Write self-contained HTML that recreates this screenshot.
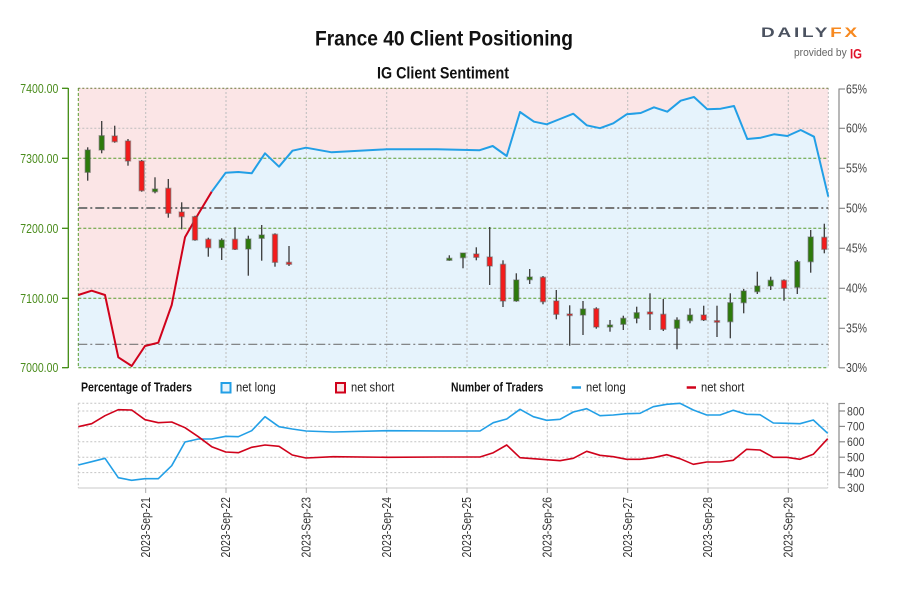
<!DOCTYPE html>
<html><head><meta charset="utf-8"><style>
html,body{margin:0;padding:0;background:#fff;}
svg{display:block;font-family:"Liberation Sans Narrow","Liberation Sans",sans-serif;}
</style></head><body>
<svg width="900" height="600" viewBox="0 0 900 600" xmlns="http://www.w3.org/2000/svg">
<rect width="900" height="600" fill="#fff"/>
<!-- Titles -->
<text x="315" y="45.5" font-family="Liberation Sans, sans-serif" font-size="21" font-weight="bold" fill="#111" textLength="258" lengthAdjust="spacingAndGlyphs">France 40 Client Positioning</text>
<text x="377" y="78.3" font-family="Liberation Sans, sans-serif" font-size="16.5" font-weight="bold" fill="#111" textLength="132" lengthAdjust="spacingAndGlyphs">IG Client Sentiment</text>
<!-- Logo -->
<text x="761" y="36.8" font-family="Liberation Sans, sans-serif" font-size="13.5" font-weight="bold" letter-spacing="2" textLength="99" lengthAdjust="spacingAndGlyphs"><tspan fill="#4b5260">DAILY</tspan><tspan fill="#f7891f">FX</tspan></text>
<text x="794" y="55.8" font-family="Liberation Sans, sans-serif" font-size="11" fill="#666" textLength="52.7" lengthAdjust="spacingAndGlyphs">provided by</text>
<text x="850" y="58.5" font-family="Liberation Sans, sans-serif" font-size="14" font-weight="bold" fill="#e0142b" textLength="12" lengthAdjust="spacingAndGlyphs">IG</text>

<!-- Main plot backgrounds -->
<rect x="78.3" y="88" width="750" height="280" fill="#fbe5e6"/>
<polygon fill="#e6f3fc" points="78.3,295 91.7,290.7 105,295 118.3,357.3 131.7,366 145,346 158.3,342.7 171.7,305 185,237.3 198.3,214 211.7,191.7 225.7,172.7 238.3,172 251.7,173.3 265,153.3 279,166.7 292.5,150.7 306,147.7 331.7,152.3 386.7,149.3 436.7,149.3 479.3,150.3 492.7,146 506.7,156 520,112 534,121.7 546.7,124.3 560,119 573.3,113.7 586.7,125.3 600,128.2 613.3,123.3 626.7,114.3 640.7,113 654,107.3 667.3,111.7 680.7,100.7 694,97 707.3,109.3 720.7,108.7 734,106 747.3,139 760.7,137.7 774,134.3 787.3,136 800.7,130 814,136.7 828.3,196.7 828.3,368 78.3,368"/>

<!-- Grid: vertical gray dotted -->
<g stroke="#bdbdbd" stroke-width="1" stroke-dasharray="2,2">
<line x1="145.7" y1="88" x2="145.7" y2="368"/><line x1="226" y1="88" x2="226" y2="368"/><line x1="306.3" y1="88" x2="306.3" y2="368"/><line x1="386.7" y1="88" x2="386.7" y2="368"/><line x1="467" y1="88" x2="467" y2="368"/><line x1="547.3" y1="88" x2="547.3" y2="368"/><line x1="627.7" y1="88" x2="627.7" y2="368"/><line x1="708" y1="88" x2="708" y2="368"/><line x1="788.3" y1="88" x2="788.3" y2="368"/>
<line x1="78.3" y1="128.3" x2="828.3" y2="128.3"/><line x1="78.3" y1="288.3" x2="828.3" y2="288.3"/>
<line x1="828.3" y1="88" x2="828.3" y2="368"/>
</g>
<!-- Grid: horizontal green dotted -->
<g stroke="#5a9e2f" stroke-width="1" stroke-dasharray="3,2">
<line x1="78.3" y1="158.3" x2="828.3" y2="158.3"/><line x1="78.3" y1="228.3" x2="828.3" y2="228.3"/><line x1="78.3" y1="298.3" x2="828.3" y2="298.3"/><line x1="78.3" y1="367.7" x2="828.3" y2="367.7"/>
<line x1="78.3" y1="88" x2="78.3" y2="368"/>
</g>
<line x1="78.3" y1="88.3" x2="828.3" y2="88.3" stroke="#6b7a3a" stroke-width="1" stroke-dasharray="2,2"/>
<!-- Dash-dot reference lines -->
<line x1="78.3" y1="208" x2="828.3" y2="208" stroke="#777" stroke-width="2" stroke-dasharray="9,3,2,3"/>
<line x1="78.3" y1="344.3" x2="828.3" y2="344.3" stroke="#777" stroke-width="1.2" stroke-dasharray="9,3,2,3"/>

<!-- Sentiment line -->
<polyline fill="none" stroke="#d0021b" stroke-width="2" stroke-linejoin="round" points="78.3,295 91.7,290.7 105,295 118.3,357.3 131.7,366 145,346 158.3,342.7 171.7,305 185,237.3 198.3,214 211.7,191.7"/>
<polyline fill="none" stroke="#229fe6" stroke-width="2" stroke-linejoin="round" points="211.7,191.7 225.7,172.7 238.3,172 251.7,173.3 265,153.3 279,166.7 292.5,150.7 306,147.7 331.7,152.3 386.7,149.3 436.7,149.3 479.3,150.3 492.7,146 506.7,156 520,112 534,121.7 546.7,124.3 560,119 573.3,113.7 586.7,125.3 600,128.2 613.3,123.3 626.7,114.3 640.7,113 654,107.3 667.3,111.7 680.7,100.7 694,97 707.3,109.3 720.7,108.7 734,106 747.3,139 760.7,137.7 774,134.3 787.3,136 800.7,130 814,136.7 828.3,196.7"/>

<!-- Candles: wicks -->
<g stroke="#3a3a3a" stroke-width="1.3">
<line x1="87.7" y1="147.3" x2="87.7" y2="180.7"/><line x1="101.7" y1="121" x2="101.7" y2="153.3"/><line x1="114.7" y1="125.7" x2="114.7" y2="142.7"/><line x1="128" y1="139" x2="128" y2="165.7"/><line x1="141.7" y1="160" x2="141.7" y2="191.7"/><line x1="155" y1="177.3" x2="155" y2="193.3"/><line x1="168.3" y1="179" x2="168.3" y2="217.7"/><line x1="181.7" y1="202.3" x2="181.7" y2="229.3"/><line x1="195" y1="215.7" x2="195" y2="240.7"/><line x1="208.3" y1="237.7" x2="208.3" y2="256.7"/><line x1="221.7" y1="238.3" x2="221.7" y2="260"/><line x1="235" y1="227.3" x2="235" y2="250"/><line x1="248.3" y1="235.7" x2="248.3" y2="275.7"/><line x1="261.7" y1="225" x2="261.7" y2="260.7"/><line x1="275" y1="233.3" x2="275" y2="266.7"/><line x1="289" y1="246" x2="289" y2="266"/>
<line x1="449.3" y1="255.3" x2="449.3" y2="260.7"/><line x1="463" y1="253" x2="463" y2="268.3"/><line x1="476.3" y1="247.3" x2="476.3" y2="260.3"/><line x1="489.7" y1="227" x2="489.7" y2="285"/><line x1="503" y1="260.3" x2="503" y2="307"/><line x1="516.3" y1="273.3" x2="516.3" y2="301.7"/><line x1="529.7" y1="269" x2="529.7" y2="284"/><line x1="543" y1="276" x2="543" y2="304.3"/><line x1="556.3" y1="290" x2="556.3" y2="319.3"/><line x1="569.7" y1="305.3" x2="569.7" y2="345.7"/><line x1="583" y1="301" x2="583" y2="335"/><line x1="596.3" y1="307.3" x2="596.3" y2="328.7"/><line x1="610" y1="320" x2="610" y2="331.7"/><line x1="623.3" y1="315.7" x2="623.3" y2="330"/><line x1="636.7" y1="306.7" x2="636.7" y2="323.3"/><line x1="650" y1="293.3" x2="650" y2="330"/><line x1="663.3" y1="299" x2="663.3" y2="331"/><line x1="677" y1="317.3" x2="677" y2="349.3"/><line x1="690" y1="308.3" x2="690" y2="323.3"/><line x1="703.7" y1="305.7" x2="703.7" y2="321"/><line x1="717" y1="305.7" x2="717" y2="337"/><line x1="730.3" y1="293.3" x2="730.3" y2="338.3"/><line x1="743.7" y1="289" x2="743.7" y2="313.3"/><line x1="757.3" y1="271.7" x2="757.3" y2="294"/><line x1="770.7" y1="276.7" x2="770.7" y2="290"/><line x1="784" y1="279.3" x2="784" y2="300.7"/><line x1="797.3" y1="260" x2="797.3" y2="294"/><line x1="810.7" y1="230" x2="810.7" y2="272.7"/><line x1="824.3" y1="223.7" x2="824.3" y2="253.3"/>
</g>
<!-- Candles: bodies -->
<g stroke="rgba(90,90,90,0.45)" stroke-width="1.4">
<rect x="85.2" y="150" width="5" height="22.3" fill="#2d7a0b"/><rect x="99.2" y="135.7" width="5" height="14.3" fill="#2d7a0b"/><rect x="112.2" y="136" width="5" height="5.7" fill="#f41b1b"/><rect x="125.5" y="141" width="5" height="20" fill="#f41b1b"/><rect x="139.2" y="161" width="5" height="29.7" fill="#f41b1b"/><rect x="152.5" y="189" width="5" height="2.7" fill="#2d7a0b"/><rect x="165.8" y="188.3" width="5" height="25" fill="#f41b1b"/><rect x="179.2" y="212" width="5" height="4.7" fill="#f41b1b"/><rect x="192.5" y="216.7" width="5" height="23.3" fill="#f41b1b"/><rect x="205.8" y="239.3" width="5" height="8.4" fill="#f41b1b"/><rect x="219.2" y="240" width="5" height="7.7" fill="#2d7a0b"/><rect x="232.5" y="239.3" width="5" height="10" fill="#f41b1b"/><rect x="245.8" y="239" width="5" height="10" fill="#2d7a0b"/><rect x="259.2" y="235" width="5" height="3.3" fill="#2d7a0b"/><rect x="272.5" y="234.3" width="5" height="28" fill="#f41b1b"/><rect x="286.5" y="262.3" width="5" height="2" fill="#f41b1b"/>
<rect x="446.8" y="258.3" width="5" height="2" fill="#2d7a0b"/><rect x="460.5" y="253" width="5" height="4.7" fill="#2d7a0b"/><rect x="473.8" y="254" width="5" height="3.3" fill="#f41b1b"/><rect x="487.2" y="257" width="5" height="9" fill="#f41b1b"/><rect x="500.5" y="264.3" width="5" height="36.7" fill="#f41b1b"/><rect x="513.8" y="280" width="5" height="21" fill="#2d7a0b"/><rect x="527.2" y="277" width="5" height="2.7" fill="#2d7a0b"/><rect x="540.5" y="277.3" width="5" height="24.4" fill="#f41b1b"/><rect x="553.8" y="301" width="5" height="13.3" fill="#f41b1b"/><rect x="567.2" y="314" width="5" height="1.5" fill="#f41b1b"/><rect x="580.5" y="309" width="5" height="6" fill="#2d7a0b"/><rect x="593.8" y="308.7" width="5" height="18.3" fill="#f41b1b"/><rect x="607.5" y="325" width="5" height="2" fill="#2d7a0b"/><rect x="620.8" y="318.3" width="5" height="6" fill="#2d7a0b"/><rect x="634.2" y="312.7" width="5" height="5.6" fill="#2d7a0b"/><rect x="647.5" y="312" width="5" height="2" fill="#f41b1b"/><rect x="660.8" y="314.3" width="5" height="15" fill="#f41b1b"/><rect x="674.5" y="320" width="5" height="8.3" fill="#2d7a0b"/><rect x="687.5" y="315" width="5" height="5.7" fill="#2d7a0b"/><rect x="701.2" y="315" width="5" height="5" fill="#f41b1b"/><rect x="714.5" y="320.7" width="5" height="1.5" fill="#f41b1b"/><rect x="727.8" y="302.7" width="5" height="19" fill="#2d7a0b"/><rect x="741.2" y="291" width="5" height="11.7" fill="#2d7a0b"/><rect x="754.8" y="286" width="5" height="5.7" fill="#2d7a0b"/><rect x="768.2" y="280.3" width="5" height="5.7" fill="#2d7a0b"/><rect x="781.5" y="280.3" width="5" height="8" fill="#f41b1b"/><rect x="794.8" y="261.7" width="5" height="25.6" fill="#2d7a0b"/><rect x="808.2" y="237" width="5" height="24.7" fill="#2d7a0b"/><rect x="821.8" y="237.3" width="5" height="12" fill="#f41b1b"/>
</g>

<!-- Left axis -->
<line x1="68.3" y1="88" x2="68.3" y2="368" stroke="#3f8a10" stroke-width="1.3"/>
<g stroke="#3f8a10" stroke-width="1.3">
<line x1="62" y1="88.3" x2="68.3" y2="88.3"/><line x1="62" y1="158.3" x2="68.3" y2="158.3"/><line x1="62" y1="228.3" x2="68.3" y2="228.3"/><line x1="62" y1="298.3" x2="68.3" y2="298.3"/><line x1="62" y1="367.7" x2="68.3" y2="367.7"/>
</g>
<g fill="#4a8c1c" font-size="13" text-anchor="end">
<text x="58.3" y="92.8" textLength="38" lengthAdjust="spacingAndGlyphs">7400.00</text>
<text x="58.3" y="162.8" textLength="38" lengthAdjust="spacingAndGlyphs">7300.00</text>
<text x="58.3" y="232.8" textLength="38" lengthAdjust="spacingAndGlyphs">7200.00</text>
<text x="58.3" y="302.8" textLength="38" lengthAdjust="spacingAndGlyphs">7100.00</text>
<text x="58.3" y="372.2" textLength="38" lengthAdjust="spacingAndGlyphs">7000.00</text>
</g>
<!-- Right axis main -->
<line x1="839" y1="88.5" x2="839" y2="368" stroke="#888" stroke-width="1.2"/>
<g stroke="#888" stroke-width="1.2">
<line x1="839" y1="89" x2="845" y2="89"/><line x1="839" y1="128.3" x2="845" y2="128.3"/><line x1="839" y1="168.3" x2="845" y2="168.3"/><line x1="839" y1="208.3" x2="845" y2="208.3"/><line x1="839" y1="248.3" x2="845" y2="248.3"/><line x1="839" y1="288.3" x2="845" y2="288.3"/><line x1="839" y1="328.3" x2="845" y2="328.3"/><line x1="839" y1="367.8" x2="845" y2="367.8"/>
</g>
<g fill="#444" font-size="12.5">
<text x="846" y="93.3" textLength="21" lengthAdjust="spacingAndGlyphs">65%</text>
<text x="846" y="132.6" textLength="21" lengthAdjust="spacingAndGlyphs">60%</text>
<text x="846" y="172.6" textLength="21" lengthAdjust="spacingAndGlyphs">55%</text>
<text x="846" y="212.6" textLength="21" lengthAdjust="spacingAndGlyphs">50%</text>
<text x="846" y="252.6" textLength="21" lengthAdjust="spacingAndGlyphs">45%</text>
<text x="846" y="292.6" textLength="21" lengthAdjust="spacingAndGlyphs">40%</text>
<text x="846" y="332.6" textLength="21" lengthAdjust="spacingAndGlyphs">35%</text>
<text x="846" y="372.2" textLength="21" lengthAdjust="spacingAndGlyphs">30%</text>
</g>

<!-- Legend row -->
<text x="81" y="391.7" font-size="12.5" font-weight="bold" fill="#111" textLength="111" lengthAdjust="spacingAndGlyphs">Percentage of Traders</text>
<rect x="221.5" y="383" width="9" height="9.5" fill="#e6f3fc" stroke="#229fe6" stroke-width="2"/>
<text x="236" y="391.7" font-size="12.5" fill="#222" textLength="39.7" lengthAdjust="spacingAndGlyphs">net long</text>
<rect x="336" y="383" width="9" height="9.5" fill="#fbe5e6" stroke="#d0021b" stroke-width="2"/>
<text x="351" y="391.7" font-size="12.5" fill="#222" textLength="43.3" lengthAdjust="spacingAndGlyphs">net short</text>
<text x="451" y="391.7" font-size="12.5" font-weight="bold" fill="#111" textLength="92.3" lengthAdjust="spacingAndGlyphs">Number of Traders</text>
<line x1="571.7" y1="387.5" x2="581" y2="387.5" stroke="#229fe6" stroke-width="2.5"/>
<text x="586" y="391.7" font-size="12.5" fill="#222" textLength="39.7" lengthAdjust="spacingAndGlyphs">net long</text>
<line x1="686.7" y1="387.5" x2="696" y2="387.5" stroke="#d0021b" stroke-width="2.5"/>
<text x="701" y="391.7" font-size="12.5" fill="#222" textLength="43.3" lengthAdjust="spacingAndGlyphs">net short</text>

<!-- Bottom panel grid -->
<g stroke="#c4c4c4" stroke-width="1" stroke-dasharray="2,2">
<line x1="78.3" y1="403.3" x2="827.7" y2="403.3"/>
<line x1="78.3" y1="411" x2="827.7" y2="411"/><line x1="78.3" y1="426.4" x2="827.7" y2="426.4"/><line x1="78.3" y1="441.8" x2="827.7" y2="441.8"/><line x1="78.3" y1="457.2" x2="827.7" y2="457.2"/><line x1="78.3" y1="472.6" x2="827.7" y2="472.6"/>
<line x1="78.3" y1="403.3" x2="78.3" y2="488"/><line x1="827.7" y1="403.3" x2="827.7" y2="488"/>
<line x1="145.7" y1="403.3" x2="145.7" y2="488"/><line x1="226" y1="403.3" x2="226" y2="488"/><line x1="306.3" y1="403.3" x2="306.3" y2="488"/><line x1="386.7" y1="403.3" x2="386.7" y2="488"/><line x1="467" y1="403.3" x2="467" y2="488"/><line x1="547.3" y1="403.3" x2="547.3" y2="488"/><line x1="627.7" y1="403.3" x2="627.7" y2="488"/><line x1="708" y1="403.3" x2="708" y2="488"/><line x1="788.3" y1="403.3" x2="788.3" y2="488"/>
</g>
<line x1="78.3" y1="488" x2="827.7" y2="488" stroke="#c8c8c8" stroke-width="1"/>
<g stroke="#aaa" stroke-width="1">
<line x1="145.7" y1="488" x2="145.7" y2="493"/><line x1="226" y1="488" x2="226" y2="493"/><line x1="306.3" y1="488" x2="306.3" y2="493"/><line x1="386.7" y1="488" x2="386.7" y2="493"/><line x1="467" y1="488" x2="467" y2="493"/><line x1="547.3" y1="488" x2="547.3" y2="493"/><line x1="627.7" y1="488" x2="627.7" y2="493"/><line x1="708" y1="488" x2="708" y2="493"/><line x1="788.3" y1="488" x2="788.3" y2="493"/>
</g>
<!-- Bottom panel lines -->
<polyline fill="none" stroke="#229fe6" stroke-width="1.6" stroke-linejoin="round" points="78.3,465 91.7,461.7 105,458.3 118.3,477.7 131.7,480.3 145,478.7 158.3,478.7 171.7,465.7 185,442 198.3,439 211.7,439 225.7,436.3 238.3,436.7 251.7,430.7 265,416.7 279,426.7 292.3,429 306,431 333.3,432 386.7,430.7 440,431 480,431 493.3,422.7 506.7,419 520,409.3 533.3,416.7 546.7,420.3 560,419.3 573.3,412 586.7,408.7 600,415.7 613.3,415 626.7,413.7 640,413.3 653.3,406.7 666.7,404.3 680,403.3 693.3,410 706.7,415 720,415 733.3,410.3 746.7,414.3 760,414.7 773.3,423 786.7,423.3 800,423.7 813.3,420 827.7,433.3"/>
<polyline fill="none" stroke="#d0021b" stroke-width="1.6" stroke-linejoin="round" points="78.3,426.7 91.7,423.7 105,415.7 118.3,409.7 131.7,410 145,419.7 158.3,422.7 171.7,422 185,427.7 198.3,436.7 211.7,446.7 225.7,452 238.3,452.7 251.7,447.3 265,445 279,446.3 292.3,455 306,458 333.3,456.7 386.7,457.3 440,457 480,457 493.3,452.7 506.7,445 520,457.7 533.3,458.7 546.7,459.7 560,460.7 573.3,458.3 586.7,451.3 600,455.3 613.3,456.7 626.7,459.3 640,459.3 653.3,457.7 666.7,454.7 680,458.7 693.3,464.3 706.7,462 720,462 733.3,460.3 746.7,449.3 760,450 773.3,457.3 786.7,457.3 800,459.3 813.3,454.3 827.7,438.7"/>
<!-- Bottom right axis -->
<line x1="839" y1="403" x2="839" y2="488" stroke="#888" stroke-width="1.2"/>
<g stroke="#888" stroke-width="1.2">
<line x1="839" y1="403.5" x2="845" y2="403.5"/><line x1="839" y1="411" x2="845" y2="411"/><line x1="839" y1="426.4" x2="845" y2="426.4"/><line x1="839" y1="441.8" x2="845" y2="441.8"/><line x1="839" y1="457.2" x2="845" y2="457.2"/><line x1="839" y1="472.6" x2="845" y2="472.6"/><line x1="839" y1="487.8" x2="845" y2="487.8"/>
</g>
<g fill="#444" font-size="12">
<text x="847" y="415.3" textLength="17.5" lengthAdjust="spacingAndGlyphs">800</text>
<text x="847" y="430.7" textLength="17.5" lengthAdjust="spacingAndGlyphs">700</text>
<text x="847" y="446.1" textLength="17.5" lengthAdjust="spacingAndGlyphs">600</text>
<text x="847" y="461.5" textLength="17.5" lengthAdjust="spacingAndGlyphs">500</text>
<text x="847" y="476.9" textLength="17.5" lengthAdjust="spacingAndGlyphs">400</text>
<text x="847" y="492.2" textLength="17.5" lengthAdjust="spacingAndGlyphs">300</text>
</g>
<!-- X labels -->
<g fill="#333" font-size="12.5" text-anchor="end">
<text transform="translate(149.8,497) rotate(-90)" textLength="60.5" lengthAdjust="spacingAndGlyphs">2023-Sep-21</text>
<text transform="translate(230.1,497) rotate(-90)" textLength="60.5" lengthAdjust="spacingAndGlyphs">2023-Sep-22</text>
<text transform="translate(310.4,497) rotate(-90)" textLength="60.5" lengthAdjust="spacingAndGlyphs">2023-Sep-23</text>
<text transform="translate(390.8,497) rotate(-90)" textLength="60.5" lengthAdjust="spacingAndGlyphs">2023-Sep-24</text>
<text transform="translate(471.1,497) rotate(-90)" textLength="60.5" lengthAdjust="spacingAndGlyphs">2023-Sep-25</text>
<text transform="translate(551.4,497) rotate(-90)" textLength="60.5" lengthAdjust="spacingAndGlyphs">2023-Sep-26</text>
<text transform="translate(631.8,497) rotate(-90)" textLength="60.5" lengthAdjust="spacingAndGlyphs">2023-Sep-27</text>
<text transform="translate(712.1,497) rotate(-90)" textLength="60.5" lengthAdjust="spacingAndGlyphs">2023-Sep-28</text>
<text transform="translate(792.4,497) rotate(-90)" textLength="60.5" lengthAdjust="spacingAndGlyphs">2023-Sep-29</text>
</g>
</svg>
</body></html>
